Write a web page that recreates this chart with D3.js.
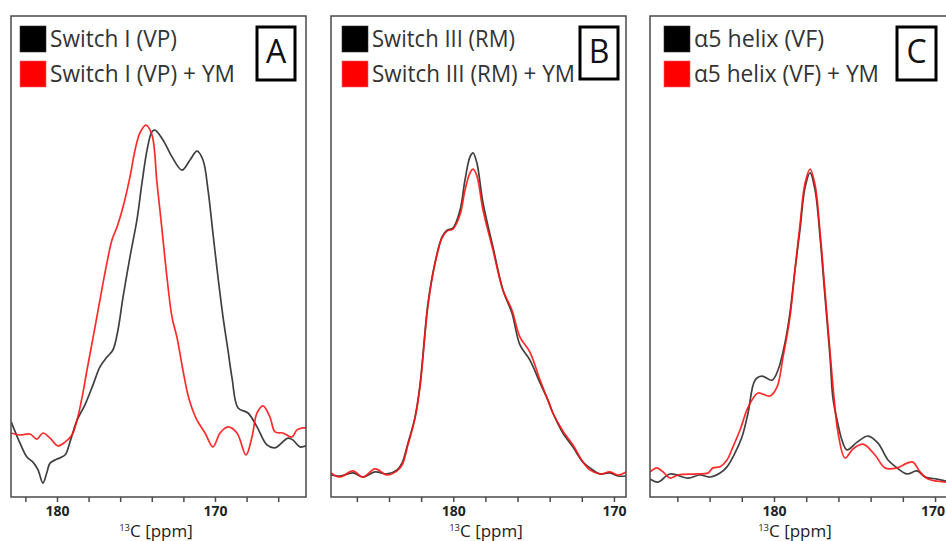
<!DOCTYPE html>
<html>
<head>
<meta charset="utf-8">
<script src="https://cdn.jsdelivr.net/npm/d3@7"></script>
<style>
  html, body { margin: 0; padding: 0; background: #fff; }
  svg { display: block; }
  text { font-family: "Open Sans", "Noto Sans", sans-serif; }
</style>
</head>
<body>
<svg id="chart" width="946" height="541"></svg>
<script>
// ---------------- data ----------------
const panelLetters = ["A", "B", "C"];
const legendLabels = [
  ["Switch I (VP)", "Switch I (VP) + YM"],
  ["Switch III (RM)", "Switch III (RM) + YM"],
  ["\u03b15 helix (VF)", "\u03b15 helix (VF) + YM"]
];
// visible chemical-shift window of each panel (ppm, left to right)
const ppmWindows = [[182.91, 164.24], [187.61, 169.25], [187.70, 169.32]];
const tickValues = [188, 186, 184, 182, 180, 178, 176, 174, 172, 170, 168, 166, 164];
const labelledTicks = [180, 170];

// Panel A: Switch I (VP)
const aApoPpm = [182.9, 182.34, 181.9, 181.52, 181.2, 180.89, 180.63, 180.44, 180.0, 179.49, 179.18, 178.73, 178.23, 177.72, 177.28, 176.84, 176.46, 176.14, 175.82, 175.38, 174.94, 174.62, 174.3, 173.99, 173.8, 173.29, 172.72, 172.09, 171.58, 171.14, 170.76, 170.44, 170.13, 169.81, 169.49, 169.18, 168.92, 168.54, 167.91, 167.34, 166.71, 166.2, 165.38, 165.06, 164.62, 164.24];
const aApoInt = [0.142, 0.079, 0.038, 0.023, 0.000, -0.039, -0.006, 0.020, 0.032, 0.044, 0.082, 0.147, 0.192, 0.251, 0.304, 0.333, 0.354, 0.413, 0.510, 0.629, 0.738, 0.847, 0.944, 0.998, 1.003, 0.974, 0.924, 0.885, 0.915, 0.941, 0.915, 0.826, 0.699, 0.569, 0.451, 0.354, 0.271, 0.183, 0.168, 0.127, 0.074, 0.065, 0.094, 0.088, 0.068, 0.071];
const aYmPpm = [182.91, 182.34, 181.71, 181.27, 180.89, 180.44, 179.94, 179.49, 179.05, 178.73, 178.42, 178.10, 177.59, 177.28, 176.84, 176.52, 176.20, 175.82, 175.38, 175.06, 174.75, 174.37, 173.99, 173.67, 173.35, 173.04, 172.72, 172.41, 172.03, 171.71, 171.46, 171.14, 170.63, 170.13, 169.68, 169.18, 168.61, 168.04, 167.66, 167.34, 166.96, 166.52, 166.20, 165.70, 165.13, 164.81, 164.43, 164.24];
const aYmInt = [0.109, 0.103, 0.106, 0.091, 0.109, 0.094, 0.071, 0.082, 0.103, 0.147, 0.212, 0.295, 0.422, 0.502, 0.611, 0.679, 0.717, 0.776, 0.865, 0.944, 0.995, 1.018, 0.989, 0.847, 0.708, 0.569, 0.451, 0.392, 0.295, 0.221, 0.183, 0.147, 0.109, 0.068, 0.109, 0.127, 0.109, 0.044, 0.097, 0.168, 0.189, 0.156, 0.112, 0.109, 0.097, 0.118, 0.124, 0.124];

// Panel B: Switch III (RM)
const bApoPpm = [187.61, 187.05, 186.24, 185.62, 184.87, 184.12, 183.50, 183.19, 182.82, 182.38, 182.07, 181.57, 181.14, 180.70, 180.39, 180.02, 179.58, 179.27, 178.96, 178.77, 178.53, 178.15, 177.53, 176.91, 176.35, 175.85, 175.23, 174.60, 174.11, 173.80, 173.18, 172.56, 171.93, 171.50, 170.87, 170.25, 169.75, 169.25];
const bApoInt = [-0.015, -0.018, -0.009, -0.021, -0.006, -0.012, 0.000, 0.020, 0.079, 0.156, 0.251, 0.493, 0.611, 0.688, 0.708, 0.714, 0.767, 0.856, 0.924, 0.936, 0.906, 0.788, 0.658, 0.531, 0.463, 0.369, 0.324, 0.257, 0.206, 0.168, 0.109, 0.068, 0.023, 0.006, -0.012, -0.009, -0.018, -0.018];
const bYmPpm = bApoPpm;
const bYmInt = [-0.009, -0.021, -0.003, -0.021, 0.003, -0.015, -0.003, 0.014, 0.074, 0.153, 0.245, 0.487, 0.608, 0.685, 0.705, 0.711, 0.753, 0.826, 0.877, 0.888, 0.868, 0.767, 0.649, 0.531, 0.472, 0.392, 0.348, 0.265, 0.206, 0.168, 0.115, 0.074, 0.023, 0.000, -0.012, -0.006, -0.015, -0.006];

// Panel C: alpha5 helix (VF)
const cApoPpm = [187.70, 187.20, 186.46, 185.34, 184.60, 183.98, 183.35, 182.92, 182.42, 181.99, 181.61, 181.18, 180.75, 180.12, 179.75, 179.32, 179.01, 178.70, 178.39, 178.07, 177.76, 177.45, 177.14, 176.83, 176.52, 176.34, 176.02, 175.78, 175.47, 174.84, 174.16, 173.54, 172.92, 172.36, 171.74, 171.12, 170.62, 169.88, 169.32];
const cApoInt = [-0.027, -0.036, -0.012, -0.024, -0.015, -0.021, -0.009, 0.009, 0.050, 0.097, 0.168, 0.265, 0.277, 0.265, 0.295, 0.375, 0.463, 0.590, 0.708, 0.835, 0.877, 0.826, 0.688, 0.510, 0.333, 0.212, 0.133, 0.088, 0.059, 0.082, 0.100, 0.079, 0.029, 0.006, -0.012, -0.003, -0.021, -0.027, -0.033];
const cYmPpm = [187.70, 187.27, 186.89, 186.46, 185.96, 184.78, 184.10, 183.79, 183.35, 182.92, 182.55, 182.11, 181.68, 181.37, 180.99, 180.25, 179.81, 179.44, 179.01, 178.70, 178.39, 178.07, 177.76, 177.45, 177.14, 176.83, 176.52, 176.27, 176.02, 175.59, 175.09, 174.47, 173.73, 173.11, 172.36, 171.74, 171.37, 170.93, 170.43, 169.32];
const cYmInt = [-0.006, 0.006, -0.006, -0.024, -0.015, -0.012, -0.009, 0.006, 0.009, 0.029, 0.068, 0.118, 0.177, 0.206, 0.227, 0.218, 0.245, 0.333, 0.451, 0.590, 0.723, 0.847, 0.888, 0.841, 0.702, 0.525, 0.348, 0.212, 0.109, 0.035, 0.062, 0.076, 0.044, 0.006, 0.006, 0.020, 0.023, -0.006, -0.027, -0.036];

const spectra = [
  [[aApoPpm, aApoInt], [aYmPpm, aYmInt]],
  [[bApoPpm, bApoInt], [bYmPpm, bYmInt]],
  [[cApoPpm, cApoInt], [cYmPpm, cYmInt]]
];

// ---------------- layout ----------------
const seriesColors = ["#1e1e1e", "#ff1414"];
const panelLayout = [
  { x0: 11,  x1: 306, legendX: 20,  textLen: [127, 185], box: [257, 27, 38, 53], titleX: 156 },
  { x0: 331, x1: 626, legendX: 342, textLen: [143, 203], box: [580, 27, 38, 52], titleX: 486 },
  { x0: 650, x1: 946, legendX: 664, textLen: [130, 185], box: [897, 27, 39, 53], titleX: 795 }
];
const plotTop = 16, plotBottom = 497;

const svg = d3.select("#chart");
const y = d3.scaleLinear().domain([-0.08, 1.34]).range([plotBottom, plotTop]);

panelLayout.forEach((L, i) => {
  const g = svg.append("g");
  const x = d3.scaleLinear().domain(ppmWindows[i]).range([L.x0, L.x1]);
  const rightEdge = i === 2 ? L.x1 + 4 : L.x1;

  const clipId = "clip" + i;
  svg.append("defs").append("clipPath").attr("id", clipId)
    .append("rect").attr("x", L.x0).attr("y", plotTop)
    .attr("width", rightEdge - L.x0).attr("height", plotBottom - plotTop);

  // spectra
  const line = d3.line()
    .x(d => x(d[0])).y(d => y(d[1]))
    .curve(d3.curveCatmullRom.alpha(0.5));
  spectra[i].forEach(([ppm, inten], s) => {
    g.append("path")
      .datum(ppm.map((p, k) => [p, inten[k]]))
      .attr("clip-path", `url(#${clipId})`)
      .attr("d", line)
      .attr("fill", "none")
      .attr("stroke", seriesColors[s])
      .attr("stroke-opacity", s === 0 ? 0.85 : 0.9)
      .attr("stroke-width", 1.7)
      .attr("stroke-linejoin", "round");
  });

  // frame
  g.append("rect")
    .attr("x", L.x0).attr("y", plotTop)
    .attr("width", rightEdge - L.x0).attr("height", plotBottom - plotTop)
    .attr("fill", "none").attr("stroke", "#4a4a4a").attr("stroke-width", 1.5);

  // bottom axis
  const [lo, hi] = d3.extent(ppmWindows[i]);
  const axis = d3.axisBottom(x)
    .tickValues(tickValues.filter(t => t > lo && t < hi))
    .tickSize(5).tickSizeOuter(0).tickPadding(4)
    .tickFormat(d => labelledTicks.includes(d) ? d : "");
  const ax = g.append("g").attr("transform", `translate(0,${plotBottom})`).call(axis);
  ax.select(".domain").remove();
  ax.selectAll(".tick line").attr("stroke", "#4a4a4a").attr("stroke-width", 1.5);
  ax.selectAll(".tick text")
    .attr("fill", "#222").style("font-size", "14px").style("font-weight", "700")
    .style("font-family", "'Open Sans', sans-serif");
  // keep a label that sits at the page edge fully inside it
  ax.selectAll(".tick text").each(function () {
    const bb = this.getBBox();
    const tr = this.parentNode.getAttribute("transform");
    const tx = +/translate\(([-\d.]+)/.exec(tr)[1];
    const over = tx + bb.x + bb.width - 945;
    if (over > 0) d3.select(this).attr("dx", -over);
  });

  // axis title
  const t = g.append("text").attr("x", L.titleX).attr("y", 537)
    .attr("text-anchor", "middle").attr("fill", "#222");
  t.append("tspan").text("13").style("font-size", "9.5px").attr("dy", "-6");
  t.append("tspan").text("C [ppm]").style("font-size", "17px").attr("dy", "6");

  // legend
  legendLabels[i].forEach((lab, s) => {
    const yy = 26 + s * 35;
    g.append("rect").attr("x", L.legendX).attr("y", yy).attr("width", 26).attr("height", 26)
      .attr("fill", s === 0 ? "#000" : "#ff0000")
      .attr("stroke", s === 0 ? "#333" : "#ff6060").attr("stroke-width", 0.6);
    g.append("text").attr("x", L.legendX + 30).attr("y", yy + 21)
      .attr("fill", "#333").style("font-size", "23px")
      .attr("textLength", L.textLen[s]).attr("lengthAdjust", "spacingAndGlyphs")
      .text(lab);
  });

  // panel letter box
  const [bx, by, bw, bh] = L.box;
  g.append("rect").attr("x", bx).attr("y", by).attr("width", bw).attr("height", bh)
    .attr("fill", "#fff").attr("stroke", "#000").attr("stroke-width", 3);
  g.append("text").attr("x", bx + bw / 2).attr("y", by + 36)
    .attr("text-anchor", "middle").attr("fill", "#111")
    .style("font-size", "32px").text(panelLetters[i]);
});
</script>
</body>
</html>
